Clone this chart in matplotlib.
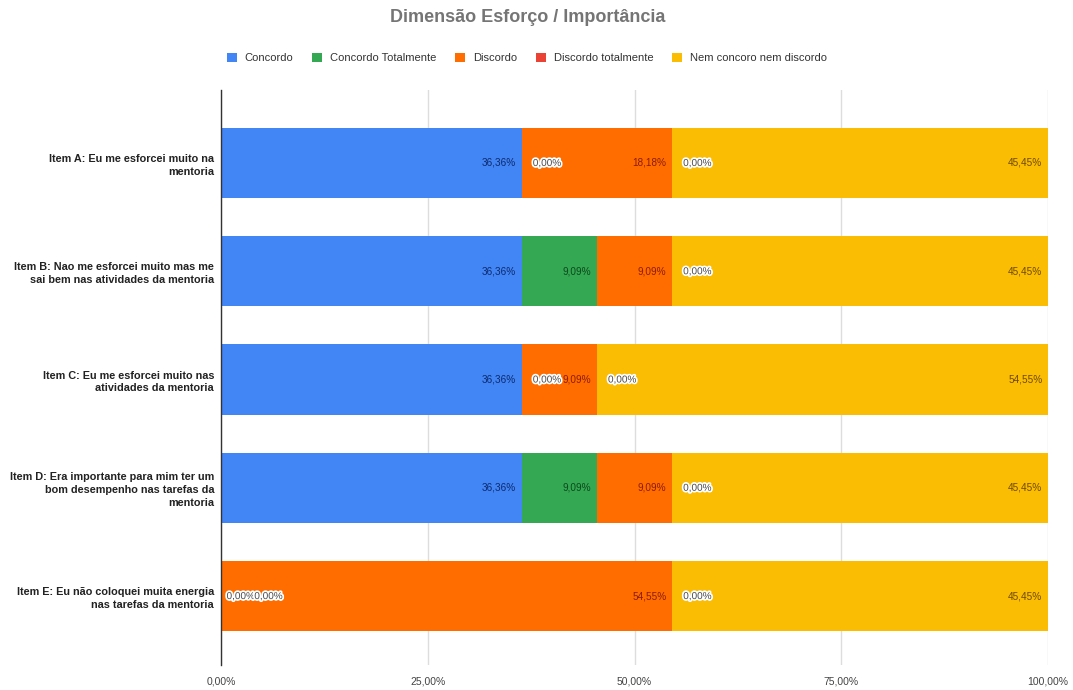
import matplotlib.pyplot as plt
import matplotlib.patheffects as pe
from matplotlib.patches import Patch

plt.rcParams['font.family'] = ['Liberation Sans', 'DejaVu Sans']

items = [
    "Item A: Eu me esforcei muito na\nmentoria",
    "Item B: Nao me esforcei muito mas me\nsai bem nas atividades da mentoria",
    "Item C: Eu me esforcei muito nas\natividades da mentoria",
    "Item D: Era importante para mim ter um\nbom desempenho nas tarefas da\nmentoria",
    "Item E: Eu não coloquei muita energia\nnas tarefas da mentoria",
]
series = ["Concordo", "Concordo Totalmente", "Discordo", "Discordo totalmente",
          "Nem concoro nem discordo"]
concordo = [36.36, 36.36, 36.36, 36.36, 0.00]
concordo_tot = [0.00, 9.09, 0.00, 9.09, 0.00]
discordo = [18.18, 9.09, 9.09, 9.09, 54.55]
discordo_tot = [0.00, 0.00, 0.00, 0.00, 0.00]
nem = [45.45, 45.45, 54.55, 45.45, 45.45]
xticks = [0, 25, 50, 75, 100]

values = [concordo, concordo_tot, discordo, discordo_tot, nem]
colors = ['#4285F4', '#34A853', '#FF6D01', '#EA4335', '#FBBC04']
label_colors = ['#0d2a6e', '#0c4a1c', '#8c1c00', '#8a1d12', '#6e4b00']

fig = plt.figure(figsize=(10.73, 6.9), dpi=100)
ax = fig.add_axes([221/1073, 1-665/690, 827/1073, 575/690])

ypos = list(range(len(items)))
left = [0.0] * len(items)
zero_count = {}
for s, (vals, col, lcol) in enumerate(zip(values, colors, label_colors)):
    ax.barh(ypos, vals, left=left, height=0.647, color=col, label=series[s], zorder=2)
    for i, v in enumerate(vals):
        end = left[i] + v
        txt = f"{v:.2f}%".replace('.', ',')
        if v > 0:
            ax.annotate(txt, (end, i), xytext=(-4, 0), textcoords='offset points',
                        ha='right', va='center', fontsize=7.2, color=lcol, zorder=3)
        else:
            k = zero_count.get((i, round(end, 2)), 0)
            zero_count[(i, round(end, 2))] = k + 1
            off = (4 if end == 0 else 8) + k * 20
            ax.annotate(txt, (end, i), xytext=(off, 0), textcoords='offset points',
                        ha='left', va='center', fontsize=7.2, color='#4a4a4a', zorder=3,
                        path_effects=[pe.withStroke(linewidth=2.5, foreground='white')])
    left = [l + v for l, v in zip(left, vals)]

ax.set_xlim(0, 100)
ax.set_ylim(4.637, -0.674)
ax.set_yticks(ypos)
ax.set_yticklabels(items, fontsize=7.8, fontweight='bold', color='#222222', linespacing=1.35)
ax.set_xticks(xticks)
ax.set_xticklabels([f"{t:.2f}%".replace('.', ',') for t in xticks], fontsize=7.5, color='#444444')
ax.tick_params(axis='both', length=0)
ax.tick_params(axis='y', pad=5)
ax.tick_params(axis='x', pad=8)
ax.grid(axis='x', color='#dddddd', linewidth=1, zorder=0)
for sp in ['top', 'right', 'bottom']:
    ax.spines[sp].set_visible(False)
ax.spines['left'].set_color('#333333')
ax.spines['left'].set_linewidth(1)
ax.spines['left'].set_zorder(4)

fig.text(528/1073, 1-18/690, "Dimensão Esforço / Importância", ha='center', va='center',
         fontsize=13, fontweight='bold', color='#757575')

handles = [Patch(facecolor=c, edgecolor='none') for c in colors]
fig.legend(handles, series, loc='center', bbox_to_anchor=(527/1073, 1-58/690), ncol=5,
           frameon=False, fontsize=8, handlelength=0.9, handleheight=0.9,
           handletextpad=0.7, columnspacing=1.7, labelcolor='#333333')

fig.savefig('out.png', dpi=100, facecolor='white')
